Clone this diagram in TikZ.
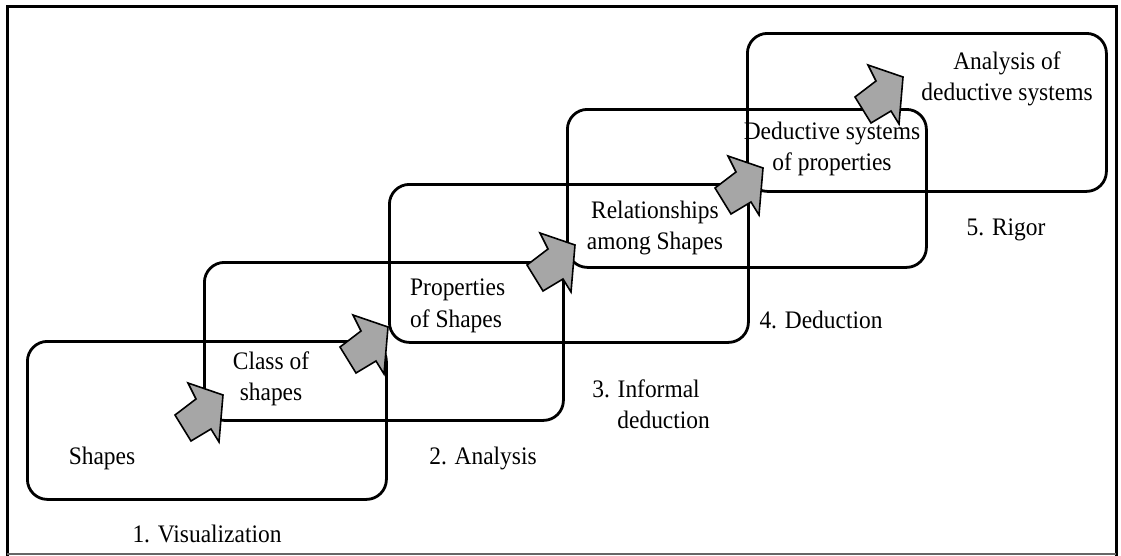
\documentclass[tikz,border=0pt]{standalone}
\usepackage{fontspec}
\setmainfont[FakeStretch=0.93]{Liberation Serif}
\begin{document}
\begin{tikzpicture}[x=1pt,y=-1pt,
  stage/.style={draw=black, line width=2.8pt, rounded corners=20pt, rectangle,
    minimum width=359pt, minimum height=158pt, anchor=north west, inner sep=0pt},
  blockarrow/.style={draw=black, line width=1.6pt, fill=black!35, line join=miter},
  lbl/.style={font=\fontsize{25.2}{31.5}\selectfont, align=center, inner sep=0pt}
]
\useasboundingbox (0,0) rectangle (1121,555);
% frame
\draw[line width=3pt] (7,556) -- (7,6) -- (1116,6) -- (1116,556);
\draw[line width=1.5pt, black!60] (7,554) -- (1116,554);

% stages
\node[stage] (b1) at (26,340) {};
\node[stage] (b2) at (203,261) {};
\node[stage] (b3) at (388,183) {};
\node[stage] (b4) at (566,108) {};
\node[stage] (b5) at (746,32) {};

% arrows
\foreach \tx/\ty in {223/395, 388/327, 575/245, 763/168, 903/77}{
  \draw[blockarrow, shift={(\tx,\ty)}] (-35,-12) -- (0,0) -- (-4,47) -- (-12,34)
     -- (-32,46) -- (-48,20) -- (-27,4) -- cycle;
}

% labels
\node[lbl] (t1) at (102,458) {Shapes};
\node[lbl] (t2) at (271,379) {Class of\\shapes};
\node[lbl, align=left, anchor=west] (t3) at (410,306) {Properties\\of Shapes};
\node[lbl] (t4) at (655,228) {Relationships\\among Shapes};
\node[lbl] (t5) at (832,149) {Deductive systems\\of properties};
\node[lbl] (t6) at (1007,79) {Analysis of\\deductive systems};

\node[lbl] (s1) at (207,534) {1. Visualization};
\node[lbl] (s2) at (483,458) {2. Analysis};
\node[lbl] (s3) at (646,404) {3. Informal\\\hspace{1.4em}deduction};
\node[lbl] (s4) at (821,320) {4. Deduction};
\node[lbl] (s5) at (1006,230) {5. Rigor};
\end{tikzpicture}
\end{document}
